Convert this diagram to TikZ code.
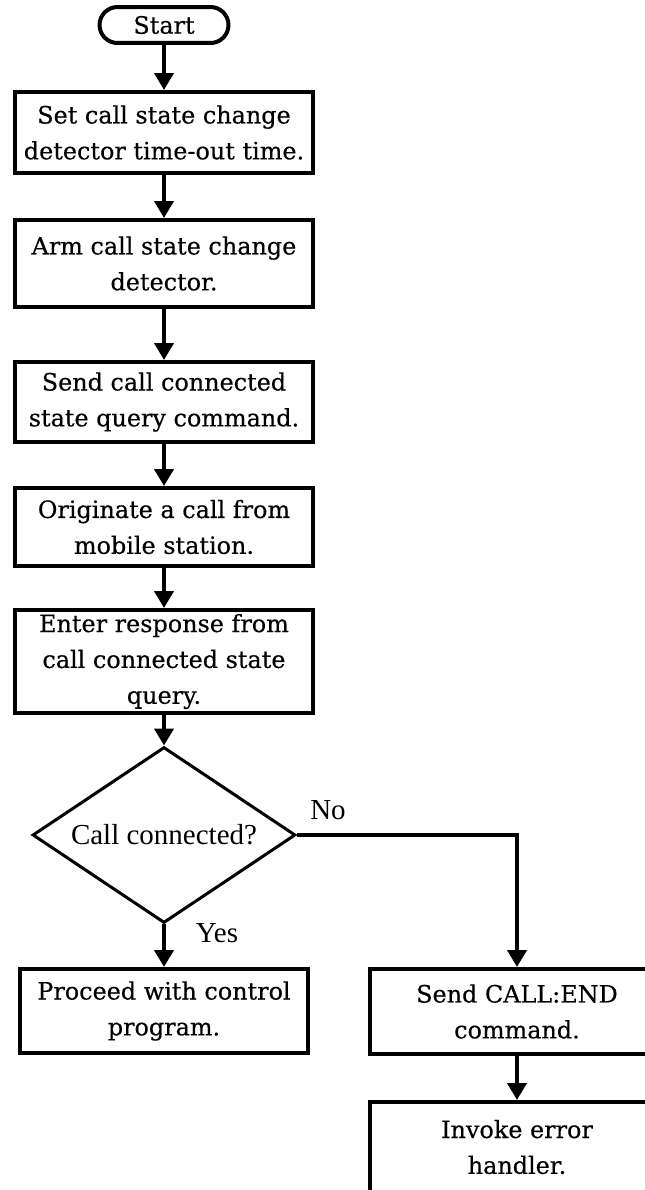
\documentclass[tikz,border=0pt]{standalone}
\usepackage{fontspec}
\setmainfont{DejaVu Serif}[UprightFeatures={FakeBold=0.4}]
\newfontfamily\labelfont{Liberation Serif}
\usetikzlibrary{positioning,shapes.geometric,arrows.meta}

\begin{document}
\begin{tikzpicture}[x=0.02cm,y=-0.02cm,
        every node/.style={font=\fontsize{13.6}{20.4}\selectfont},
        startbox/.style={draw,line width=0.08cm,rounded corners=0.36cm,minimum width=2.58cm,minimum height=0.72cm,inner sep=0pt},
        stepbox/.style={draw,line width=0.08cm,align=center,inner sep=0pt,minimum width=5.98cm},
        decision/.style={draw,diamond,aspect=1.5,line width=0.06cm,minimum width=5.26cm,minimum height=3.52cm,inner sep=0pt,font=\labelfont\fontsize{16.5}{18}\selectfont},
        answer/.style={font=\labelfont\fontsize{16.5}{18}\selectfont},
        flow/.style={line width=0.08cm,-{Triangle[length=0.34cm,width=0.38cm]}}]
        \useasboundingbox (0,0) rectangle (645,1190);
        \clip (0,0) rectangle (645,1190);% boxes on the right run off the page
        \node[startbox] (start) at (164,25) {Start};
        \node[stepbox,minimum height=1.62cm] (settime) at (164,132.5) {Set call state change\\detector time-out time.};
        \node[stepbox,minimum height=1.74cm] (arm) at (164,263.5) {Arm call state change\\detector.};
        \node[stepbox,minimum height=1.6cm] (sendquery) at (164,402) {Send call connected\\state query command.};
        \node[stepbox,minimum height=1.56cm] (originate) at (164,527) {Originate a call from\\mobile station.};
        \node[stepbox,minimum height=2.06cm] (response) at (164,661.5) {Enter response from\\call connected state\\query.};
        \node[decision] (connected) at (164,835) {Call connected?};
        \node[stepbox,minimum width=5.78cm,minimum height=1.68cm] (proceed) at (164,1011) {Proceed with control\\program.};
        \node[stepbox,minimum width=5.9cm,minimum height=1.7cm] (endcall) at (517,1011.5) {Send CALL:END\\command.};
        \node[stepbox,minimum width=5.9cm,minimum height=1.8cm] (invoke) at (517,1147) {Invoke error\\handler.};
        \node[answer] (no) at (328,810) {No};
        \node[answer] (yes) at (217,933) {Yes};
        \foreach \a/\b in {start/settime,settime/arm,arm/sendquery,sendquery/originate,originate/response,response/connected,connected/proceed,endcall/invoke}
          \draw[flow] (\a) -- (\b);
        \draw[flow] (connected.east) -| (endcall.north);
\end{tikzpicture}
\end{document}
